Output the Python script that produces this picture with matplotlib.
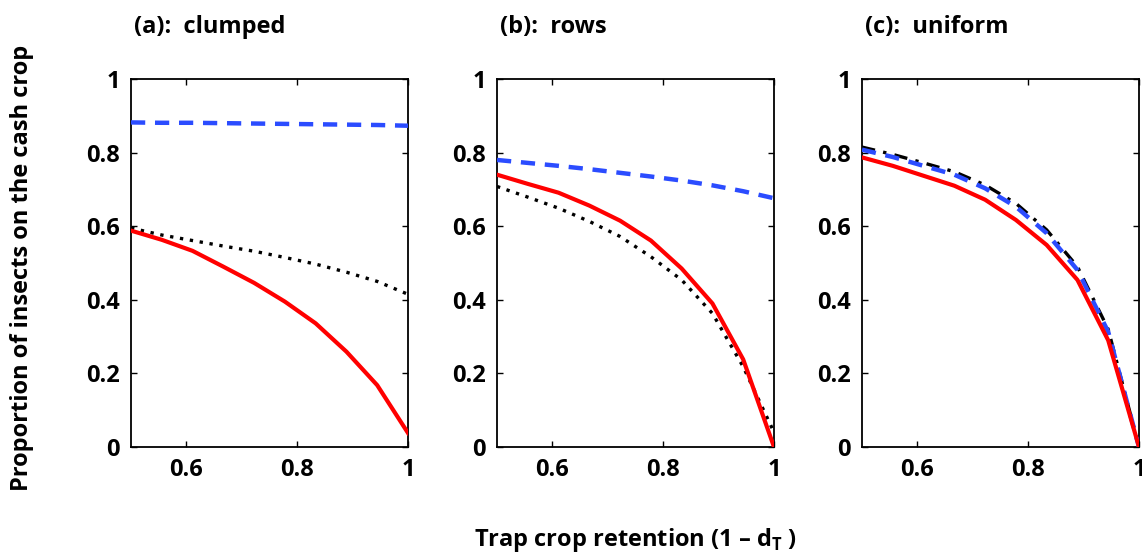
import matplotlib
matplotlib.use("Agg")
import matplotlib.pyplot as plt

plt.rcParams['font.family'] = ['Open Sans', 'DejaVu Sans']
plt.rcParams['mathtext.fontset'] = 'custom'
plt.rcParams['mathtext.rm'] = 'Open Sans:bold'
plt.rcParams['mathtext.bf'] = 'Open Sans:bold'

x = [0.5, 0.5556, 0.6111, 0.6667, 0.7222, 0.7778, 0.8333, 0.8889, 0.9444, 1.0]

titles = ["(a):  clumped", "(b):  rows", "(c):  uniform"]

red = [
    [0.588, 0.563, 0.533, 0.490, 0.446, 0.395, 0.336, 0.259, 0.168, 0.038],
    [0.740, 0.715, 0.691, 0.656, 0.615, 0.561, 0.485, 0.390, 0.238, 0.0],
    [0.787, 0.764, 0.737, 0.710, 0.672, 0.617, 0.549, 0.454, 0.290, 0.0],
]
blue = [
    [0.882, 0.881, 0.881, 0.880, 0.879, 0.878, 0.877, 0.876, 0.875, 0.873],
    [0.780, 0.772, 0.764, 0.755, 0.745, 0.735, 0.724, 0.711, 0.695, 0.676],
    [0.808, 0.788, 0.764, 0.740, 0.703, 0.653, 0.581, 0.481, 0.313, 0.0],
]
black = [
    [0.595, 0.576, 0.561, 0.546, 0.532, 0.515, 0.497, 0.475, 0.450, 0.415],
    [0.708, 0.679, 0.649, 0.613, 0.572, 0.517, 0.454, 0.363, 0.218, 0.040],
    [0.815, 0.795, 0.772, 0.748, 0.712, 0.662, 0.590, 0.490, 0.320, 0.0],
]
black_styles = [(0, (1, 2.0)), (0, (1, 2.0)), (0, (4, 2.5, 1, 2.5))]

xticks = [0.6, 0.8, 1.0]
xticklabels = ["0.6", "0.8", "1"]
yticks = [0, 0.2, 0.4, 0.6, 0.8, 1.0]
yticklabels = ["0", "0.2", "0.4", "0.6", "0.8", "1"]

W, H = 1142, 556
fig = plt.figure(figsize=(W / 100, H / 100), dpi=100)

lefts = [131, 497, 862]
axw = 277
top, bottom = 79, 447

fs = 17
for i in range(3):
    ax = fig.add_axes([lefts[i] / W, 1 - bottom / H, axw / W, (bottom - top) / H])
    ax.plot(x, black[i], color='black', lw=2.4, linestyle=black_styles[i], zorder=2)
    ax.plot(x, blue[i], color='#2b4cff', lw=3.2, linestyle=(0, (3.2, 2.2)), zorder=3)
    ax.plot(x, red[i], color='#ff0000', lw=3.0, zorder=4)
    ax.set_xlim(0.5, 1.0)
    ax.set_ylim(0, 1)
    ax.set_xticks(xticks)
    ax.set_xticklabels(xticklabels, fontsize=fs, fontweight='bold')
    ax.set_yticks(yticks)
    ax.set_yticklabels(yticklabels, fontsize=fs, fontweight='bold')
    ax.tick_params(direction='in', length=4, width=1, top=True, right=True, pad=8)
    for s in ax.spines.values():
        s.set_linewidth(1.3)
    ax.text(0.01, 1 + 52 / 368, titles[i], transform=ax.transAxes, fontsize=fs,
            fontweight='bold', ha='left', va='center')

fig.text(22 / W, 1 - 268 / H, "Proportion of insects on the cash crop", rotation=90,
         ha='center', va='center', fontsize=fs, fontweight='bold')
fig.text(635 / W, 1 - 540 / H, "Trap crop retention (1 \u2013 d$_{\\mathregular{T}}$ )",
         ha='center', va='center', fontsize=fs, fontweight='bold')

fig.savefig("out.png", dpi=100)
